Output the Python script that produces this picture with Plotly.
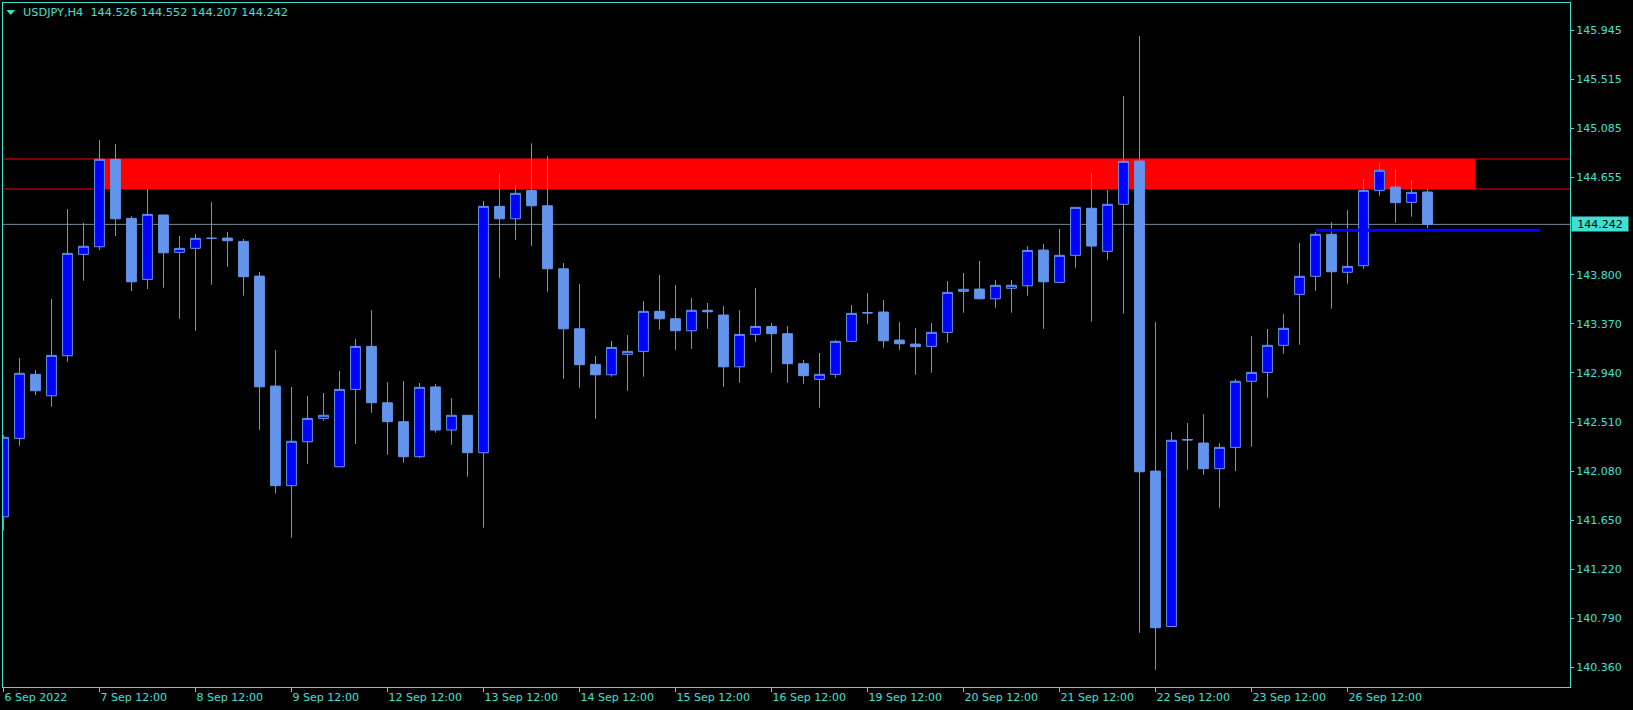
import plotly.graph_objects as go

# ---------------- data ----------------
symbol = "USDJPY,H4"

open_ = [141.680, 142.367, 142.928, 142.740, 143.091, 143.979, 144.046, 144.812, 144.295, 143.760,
         144.324, 143.997, 144.032, 144.120, 144.122, 144.093, 143.789, 142.825, 141.952, 142.337,
         142.542, 142.118, 142.796, 143.173, 142.679, 142.513, 142.206, 142.818, 142.440, 142.569,
         142.241, 144.400, 144.291, 144.540, 144.405, 143.853, 143.327, 143.015, 142.924, 143.103,
         143.129, 143.480, 143.415, 143.310, 143.489, 143.448, 142.994, 143.278, 143.348, 143.284,
         143.021, 142.884, 142.928, 143.217, 143.470, 143.474, 143.228, 143.193, 143.173, 143.296,
         143.655, 143.675, 143.590, 143.682, 143.704, 144.017, 143.734, 143.971, 144.383, 144.006,
         144.418, 144.797, 142.080, 140.718, 142.357, 142.326, 142.101, 142.288, 142.867, 142.945,
         143.182, 143.629, 143.787, 144.155, 143.822, 143.880, 144.540, 144.569, 144.435, 144.526]
high = [142.396, 143.071, 142.966, 143.588, 144.376, 144.254, 144.981, 144.946, 144.315, 144.552,
        144.324, 144.140, 144.157, 144.438, 144.175, 144.114, 143.824, 143.141, 142.817, 142.738,
        142.764, 142.957, 143.237, 143.491, 142.860, 142.869, 142.852, 142.843, 142.720, 142.569,
        144.447, 144.683, 144.587, 144.952, 144.841, 143.903, 143.719, 143.088, 143.220, 143.272,
        143.570, 143.798, 143.710, 143.597, 143.553, 143.526, 143.491, 143.684, 143.377, 143.351,
        143.053, 143.115, 143.228, 143.535, 143.640, 143.579, 143.386, 143.334, 143.377, 143.745,
        143.816, 143.921, 143.754, 143.754, 144.052, 144.070, 144.201, 144.391, 144.689, 144.543,
        145.367, 145.892, 143.386, 142.422, 142.501, 142.580, 142.326, 142.887, 143.263, 143.325,
        143.456, 144.078, 144.175, 144.262, 144.368, 144.639, 144.780, 144.727, 144.631, 144.552]
low = [141.557, 142.302, 142.746, 142.644, 143.038, 143.748, 144.017, 144.140, 143.658, 143.675,
       143.687, 143.415, 143.310, 143.713, 143.871, 143.617, 142.442, 141.885, 141.496, 142.144,
       142.521, 142.118, 142.317, 142.591, 142.223, 142.153, 142.194, 142.416, 142.311, 142.031,
       141.584, 143.774, 144.107, 144.055, 143.652, 142.889, 142.810, 142.539, 142.907, 142.784,
       142.907, 143.319, 143.143, 143.152, 143.327, 142.819, 142.854, 143.214, 142.942, 142.854,
       142.845, 142.635, 142.898, 143.210, 143.371, 143.161, 143.143, 142.924, 142.942, 143.205,
       143.468, 143.585, 143.511, 143.468, 143.617, 143.327, 143.730, 143.862, 143.389, 143.932,
       143.459, 140.663, 140.339, 140.718, 142.092, 142.048, 141.759, 142.080, 142.293, 142.723,
       143.108, 143.187, 143.660, 143.503, 143.722, 143.853, 144.493, 144.256, 144.309, 144.207]
close = [142.376, 142.937, 142.784, 143.094, 143.988, 144.050, 144.812, 144.291, 143.739, 144.330,
         143.993, 144.032, 144.120, 144.120, 144.099, 143.783, 142.819, 141.952, 142.341, 142.542,
         142.569, 142.796, 143.173, 142.679, 142.513, 142.206, 142.814, 142.440, 142.569, 142.241,
         144.400, 144.291, 144.514, 144.405, 143.853, 143.327, 143.012, 142.924, 143.164, 143.129,
         143.480, 143.415, 143.310, 143.489, 143.476, 142.994, 143.278, 143.348, 143.284, 143.021,
         142.916, 142.928, 143.217, 143.462, 143.466, 143.222, 143.196, 143.170, 143.296, 143.646,
         143.673, 143.590, 143.708, 143.708, 144.014, 143.739, 143.971, 144.391, 144.052, 144.418,
         144.794, 142.074, 140.707, 142.350, 142.353, 142.101, 142.288, 142.867, 142.945, 143.182,
         143.331, 143.787, 144.155, 143.827, 143.874, 144.540, 144.716, 144.432, 144.523, 144.242]

tick_bars = [0, 6, 12, 18, 24, 30, 36, 42, 48, 54, 60, 66, 72, 78, 84]
tick_labels = ["6 Sep 2022", "7 Sep 12:00", "8 Sep 12:00", "9 Sep 12:00", "12 Sep 12:00",
               "13 Sep 12:00", "14 Sep 12:00", "15 Sep 12:00", "16 Sep 12:00", "19 Sep 12:00",
               "20 Sep 12:00", "21 Sep 12:00", "22 Sep 12:00", "23 Sep 12:00", "26 Sep 12:00"]
price_ticks = [145.945, 145.515, 145.085, 144.655, 143.800, 143.370, 142.940,
               142.510, 142.080, 141.650, 141.220, 140.790, 140.360]

zone_low, zone_high = 144.552, 144.815
zone_start, zone_end = 6, 92
bid_price = 144.242
level_price = 144.190
level_start, level_end = 82, 96

x_range = [-0.031, 97.906]
y_range = [140.188, 146.182]

# ---------------- styling ----------------
FG = "#40E0D0"
BULL_FILL = "#0000FF"
CANDLE = "#6495ED"
FONT = "DejaVu Sans"

bars = list(range(len(open_)))

fig = go.Figure()
fig.add_trace(go.Candlestick(
    x=bars, open=open_, high=high, low=low, close=close,
    increasing=dict(fillcolor=BULL_FILL, line=dict(color=CANDLE, width=1)),
    decreasing=dict(fillcolor=CANDLE, line=dict(color=CANDLE, width=1)),
    whiskerwidth=0, hoverinfo="skip", showlegend=False,
))

# resistance zone
fig.add_shape(type="rect", xref="x", yref="y", x0=zone_start, x1=zone_end,
              y0=zone_low, y1=zone_high, fillcolor="#FF0000", line=dict(width=0), layer="below")
for yv in (zone_low, zone_high):
    fig.add_shape(type="line", xref="paper", yref="y", x0=0, x1=1, y0=yv, y1=yv,
                  line=dict(color="#FF0000", width=1), layer="below")
# bid line
fig.add_shape(type="line", xref="paper", yref="y", x0=0, x1=1, y0=bid_price, y1=bid_price,
              line=dict(color="#778899", width=1), layer="below")
# horizontal level
fig.add_shape(type="line", xref="x", yref="y", x0=level_start, x1=level_end,
              y0=level_price, y1=level_price, line=dict(color="#0000FF", width=3), layer="above")

# header
fig.add_shape(type="path", xref="paper", yref="paper",
              path="M 0.00217 0.98977 L 0.00766 0.98977 L 0.00491 0.98246 Z",
              fillcolor=FG, line=dict(width=0))
header = "{}\u00a0\u00a0{:.3f} {:.3f} {:.3f} {:.3f}".format(symbol, open_[-1], high[-1], low[-1], close[-1])
fig.add_annotation(xref="paper", yref="paper", x=0.01174, y=0.9858, xanchor="left", yanchor="middle",
                   text=header, showarrow=False, font=dict(family=FONT, size=11.3, color=FG))
# current price label
fig.add_annotation(xref="paper", yref="y", x=1, y=bid_price, xanchor="left", yanchor="middle",
                   xshift=1, text="{:.3f}".format(bid_price), showarrow=False,
                   bgcolor=FG, width=54, height=12, borderpad=1, align="center",
                   font=dict(family=FONT, size=11, color="#000000"))

fig.update_layout(
    width=1633, height=710,
    margin=dict(l=3, r=63, t=3, b=23),
    paper_bgcolor="#000000", plot_bgcolor="#000000",
    boxgap=0.39, boxgroupgap=0,
    showlegend=False,
    font=dict(family=FONT, size=11, color=FG),
)
fig.update_xaxes(
    range=x_range, rangeslider=dict(visible=False),
    showgrid=False, zeroline=False,
    showline=True, mirror=True, linecolor=FG, linewidth=1,
    ticks="outside", ticklen=4, tickcolor=FG, tickwidth=1,
    tickmode="array", tickvals=tick_bars, ticktext=tick_labels,
    ticklabelposition="outside right",
    tickfont=dict(family=FONT, size=11, color=FG),
)
fig.update_yaxes(
    range=y_range, side="right",
    showgrid=False, zeroline=False,
    showline=True, mirror=True, linecolor=FG, linewidth=1,
    ticks="outside", ticklen=3, tickcolor=FG, tickwidth=1,
    tickmode="array", tickvals=price_ticks, ticktext=["{:.3f}".format(v) for v in price_ticks],
    tickfont=dict(family=FONT, size=11, color=FG),
)

fig.write_html(
    "out.html",
    config={"displayModeBar": False},
    post_script="document.body.style.margin='0px';document.body.style.padding='0px';"
                "document.body.style.background='#000000';",
)
